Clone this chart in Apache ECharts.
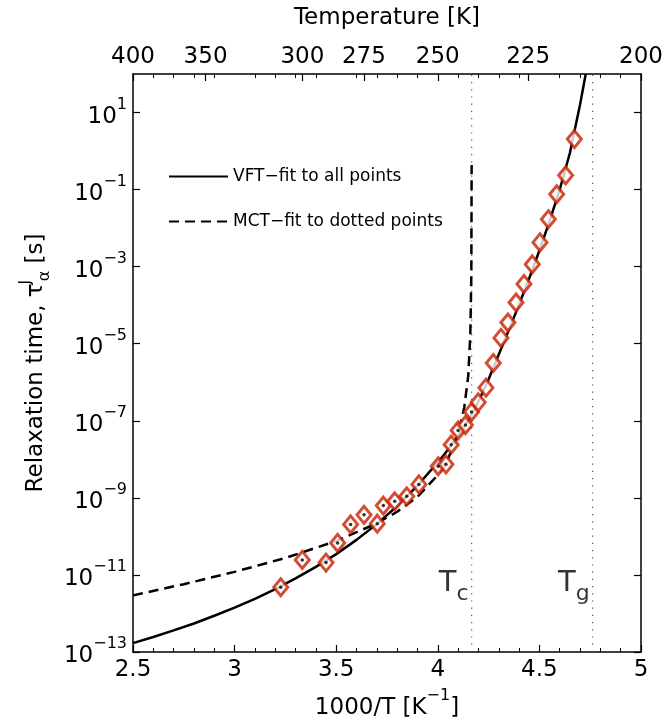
<!DOCTYPE html>
<html>
<head>
<meta charset="utf-8">
<title>Relaxation time vs 1000/T</title>
<script src="https://cdn.jsdelivr.net/npm/echarts@6/dist/echarts.min.js"></script>
<style>
  html, body { margin: 0; padding: 0; background: #fff; }
  #chart { width: 664px; height: 721px; }
</style>
</head>
<body>
<div id="chart"></div>
<script>
// measured points: x = 1000/T, y = log10(tau / s)
const tauX = [3.227, 3.333, 3.450, 3.507, 3.571, 3.637, 3.702, 3.732, 3.788, 3.847,
  3.907, 4.002, 4.040, 4.066, 4.100, 4.136, 4.166, 4.199, 4.237, 4.273,
  4.311, 4.345, 4.385, 4.424, 4.465, 4.503, 4.544, 4.585, 4.629, 4.672];
const tauLog = [-11.32, -10.61, -10.68, -10.17, -9.69, -9.44, -9.67, -9.20, -9.09, -8.96,
  -8.65, -8.18, -8.13, -7.62, -7.25, -7.11, -6.77, -6.52, -6.14, -5.50,
  -4.85, -4.45, -3.93, -3.45, -2.94, -2.37, -1.77, -1.12, -0.63, 0.31];

// VFT fit (solid line)
const vftX = [2.5, 2.6, 2.7, 2.8, 2.9, 3.0, 3.1, 3.2, 3.3, 3.4, 3.5, 3.6, 3.7, 3.8, 3.9,
  4.0, 4.05, 4.1, 4.15, 4.2, 4.25, 4.3, 4.35, 4.4, 4.45, 4.5, 4.55, 4.6, 4.65, 4.7, 4.728];
const vftLog = [-12.77, -12.61, -12.44, -12.26, -12.06, -11.85, -11.62, -11.37, -11.09, -10.79,
  -10.46, -10.09, -9.68, -9.21, -8.68, -8.08, -7.75, -7.39, -7.0, -6.5,
  -5.92, -5.28, -4.64, -3.98, -3.3, -2.58, -1.82, -1.0, -0.05, 1.2, 2.0];

// MCT fit (dashed line)
const mctX = [2.5, 2.75, 3.0, 3.25, 3.5, 3.7, 3.8, 3.9, 4.0, 4.05, 4.1, 4.13, 4.15, 4.16, 4.165, 4.1665];
const mctLog = [-11.53, -11.24, -10.92, -10.56, -10.12, -9.66, -9.36, -8.97, -8.41, -7.99,
  -7.35, -6.66, -5.83, -4.75, -3.23, -0.36];

// axes
const tempTicks = [400, 350, 300, 275, 250, 225, 200];
const yTicks = [-13, -11, -9, -7, -5, -3, -1, 1];
const Tc = 240, Tg = 210;

const FONT = 'DejaVu Sans';
const RED = '#c82000';
const tcX = 1000 / Tc, tgX = 1000 / Tg;

const pairs = (xs, ys) => xs.map((x, i) => [x, ys[i]]);
const dotted = pairs(tauX, tauLog).filter(p => p[0] < 4.17);

const supRich = {
  b: { fontFamily: FONT, fontSize: 23, lineHeight: 32, verticalAlign: 'bottom', color: '#000' },
  e: { fontFamily: FONT, fontSize: 16, lineHeight: 12, verticalAlign: 'top', color: '#000' }
};

const chart = echarts.init(document.getElementById('chart'));

chart.setOption({
  animation: false,
  backgroundColor: '#fff',
  grid: { left: 133, right: 23, top: 74, bottom: 69, outerBoundsMode: 'none', containLabel: false },
  legend: {
    data: ['VFT−fit to all points', 'MCT−fit to dotted points'],
    orient: 'vertical',
    left: 163, top: 163,
    itemWidth: 59, itemHeight: 3, itemGap: 28,
    itemStyle: { opacity: 0 },
    textStyle: { fontFamily: FONT, fontSize: 17, color: '#000' }
  },
  xAxis: [
    {
      type: 'value', position: 'bottom', min: 2.5, max: 5, interval: 0.5,
      name: '{b|1000/T [K}{e|−1}{b|]}', nameLocation: 'middle', nameGap: 36,
      nameTextStyle: { rich: supRich },
      axisLine: { onZero: false, lineStyle: { color: '#000', width: 1.5 } },
      axisTick: { inside: true, length: 7, lineStyle: { color: '#000', width: 1.2 } },
      minorTick: { show: true, splitNumber: 5, length: 4, lineStyle: { color: '#000', width: 1 } },
      axisLabel: { fontFamily: FONT, fontSize: 23, color: '#000', margin: 7 },
      splitLine: { show: false }
    },
    {
      type: 'value', position: 'top', min: 2.5, max: 5, interval: 0.5,
      name: 'Temperature [K]', nameLocation: 'middle', nameGap: 44,
      nameTextStyle: { fontFamily: FONT, fontSize: 23, color: '#000' },
      axisLine: { onZero: false, lineStyle: { color: '#000', width: 1.5 } },
      axisTick: {
        inside: true, length: 7, lineStyle: { color: '#000', width: 1.2 },
        customValues: tempTicks.map(t => 1000 / t)
      },
      minorTick: { show: true, splitNumber: 5, length: 4, lineStyle: { color: '#000', width: 1 } },
      axisLabel: {
        fontFamily: FONT, fontSize: 23, color: '#000', margin: 5,
        customValues: tempTicks.map(t => 1000 / t),
        formatter: v => String(Math.round(1000 / v))
      },
      splitLine: { show: false }
    }
  ],
  yAxis: [
    {
      type: 'value', position: 'left', min: -13, max: 2,
      name: '{n|Relaxation time, τ}{j|J}{a|α}{n| [s]}',
      nameLocation: 'middle', nameRotate: 90, nameGap: 78,
      nameTextStyle: {
        rich: {
          n: { fontFamily: FONT, fontSize: 23, lineHeight: 34, color: '#000' },
          j: { fontFamily: FONT, fontSize: 15, lineHeight: 12, verticalAlign: 'top', width: 2, color: '#000' },
          a: { fontFamily: FONT, fontSize: 16, lineHeight: 12, verticalAlign: 'bottom', color: '#000' }
        }
      },
      axisLine: { onZero: false, lineStyle: { color: '#000', width: 1.5 } },
      axisTick: { inside: true, length: 7, lineStyle: { color: '#000', width: 1.2 }, customValues: yTicks },
      axisLabel: {
        margin: 6, customValues: yTicks, rich: supRich,
        formatter: v => '{b|10}{e|' + (v < 0 ? '−' : '') + Math.abs(v) + '}'
      },
      splitLine: { show: false }
    },
    {
      type: 'value', position: 'right', min: -13, max: 2,
      axisLine: { show: true, onZero: false, lineStyle: { color: '#000', width: 1.5 } },
      axisTick: { inside: true, length: 7, lineStyle: { color: '#000', width: 1.2 }, customValues: yTicks },
      axisLabel: { show: false },
      splitLine: { show: false }
    }
  ],
  series: [
    {
      name: 'Tc line', type: 'line', data: [[tcX, -13], [tcX, 2]],
      symbol: 'none', silent: true, z: 1,
      lineStyle: { color: '#555', width: 1.2, type: [1.2, 6] }
    },
    {
      name: 'Tg line', type: 'line', data: [[tgX, -13], [tgX, 2]],
      symbol: 'none', silent: true, z: 1,
      lineStyle: { color: '#555', width: 1.2, type: [1.2, 6] }
    },
    {
      name: 'VFT−fit to all points', type: 'line', data: pairs(vftX, vftLog),
      symbol: 'none', z: 2,
      lineStyle: { color: '#000', width: 2.5 }, itemStyle: { color: '#000' }
    },
    {
      name: 'MCT−fit to dotted points', type: 'line', data: pairs(mctX, mctLog),
      symbol: 'none', z: 2,
      lineStyle: { color: '#000', width: 2.5, type: [10, 6] }, itemStyle: { color: '#000' }
    },
    {
      name: 'data', type: 'scatter', data: pairs(tauX, tauLog), z: 3,
      symbol: 'diamond', symbolSize: [14, 17],
      itemStyle: { color: '#fff', borderColor: RED, borderWidth: 3 }
    },
    {
      name: 'fitted', type: 'scatter', data: dotted, z: 4,
      symbol: 'circle', symbolSize: 3.5, itemStyle: { color: '#000' }
    },
    {
      name: 'labels', type: 'scatter', symbolSize: 0, z: 5, silent: true,
      data: [
        { value: [tcX, -11.22], name: 'c' },
        { value: [tgX, -11.22], name: 'g' }
      ],
      label: {
        show: true, position: 'left', distance: 3,
        formatter: p => '{t|T}{s|' + p.name + '}',
        rich: {
          t: { fontFamily: FONT, fontSize: 29, lineHeight: 44, color: '#000' },
          s: { fontFamily: FONT, fontSize: 22, lineHeight: 8, verticalAlign: 'bottom', color: '#000' }
        }
      }
    }
  ]
});
</script>
</body>
</html>
